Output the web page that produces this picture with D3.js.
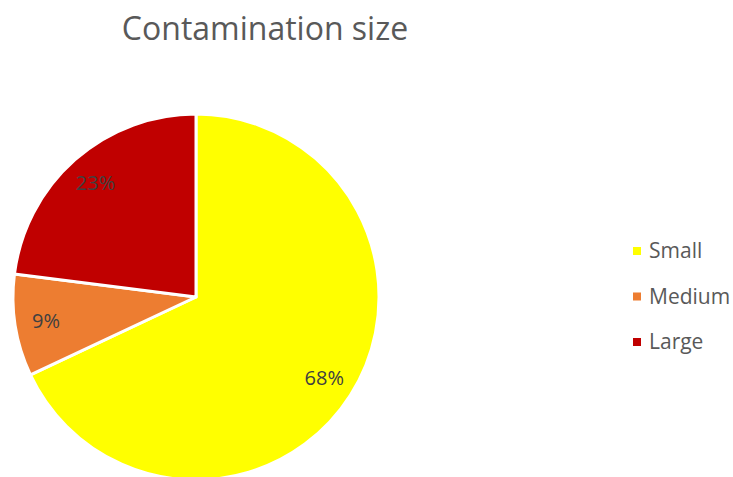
<!DOCTYPE html>
<html>
<head>
<meta charset="utf-8">
<script src="https://cdn.jsdelivr.net/npm/d3@7"></script>
<style>
  body { margin: 0; background: #fff; }
  text { font-family: "Open Sans", sans-serif; }
</style>
</head>
<body>
<div id="chart"></div>
<script>
var width = 733;
var height = 477;

// data
var categories = ["Small", "Medium", "Large"];
var shares = [68, 9, 23];
var colours = ["#FFFF00", "#ED7D31", "#C00000"];

var data = categories.map(function(c, i) {
  return {name: c, value: shares[i]};
});

var svg = d3.select("#chart")
            .append("svg")
              .attr("width", width)
              .attr("height", height);

// title
svg.append("text")
    .attr("x", 265)
    .attr("y", 40)
    .attr("text-anchor", "middle")
    .attr("fill", "#595959")
    .style("font-size", "32px")
    .text("Contamination size");

var radius = 183;
var cx = 196, cy = 297;

var colour = d3.scaleOrdinal().domain(categories).range(colours);

var pie = d3.pie()
            .sort(null)
            .value(function(d) { return d.value; });

var arc = d3.arc().innerRadius(0).outerRadius(radius);
var labelArc = d3.arc().innerRadius(radius * 0.83).outerRadius(radius * 0.83);

var g = svg.append("g")
           .attr("transform", "translate(" + cx + "," + cy + ")");

var slices = g.selectAll(".slice")
              .data(pie(data))
              .enter()
            .append("g")
              .attr("class", "slice");

slices.append("path")
      .attr("d", arc)
      .attr("fill", function(d) { return colour(d.data.name); })
      .attr("stroke", "#fff")
      .attr("stroke-width", 3)
      .attr("stroke-linejoin", "round");

slices.append("text")
      .attr("transform", function(d) { return "translate(" + labelArc.centroid(d) + ")"; })
      .attr("text-anchor", "middle")
      .attr("dy", "0.35em")
      .attr("fill", "#404040")
      .style("font-size", "20px")
      .text(function(d) { return d.data.value + "%"; });

// legend
var legendY = d3.scalePoint().domain(categories).range([251, 342]);

var legend = svg.append("g").attr("class", "legend");

legend.selectAll("rect")
      .data(categories)
      .enter()
    .append("rect")
      .attr("x", 633)
      .attr("y", function(d) { return legendY(d) - 4; })
      .attr("width", 8)
      .attr("height", 8)
      .attr("fill", function(d) { return colour(d); });

legend.selectAll(".legend-text")
      .data(categories)
      .enter()
    .append("text")
      .attr("class", "legend-text")
      .attr("x", 649)
      .attr("y", function(d) { return legendY(d); })
      .attr("dy", "0.35em")
      .attr("fill", "#595959")
      .style("font-size", "21px")
      .text(function(d) { return d; });
</script>
</body>
</html>
